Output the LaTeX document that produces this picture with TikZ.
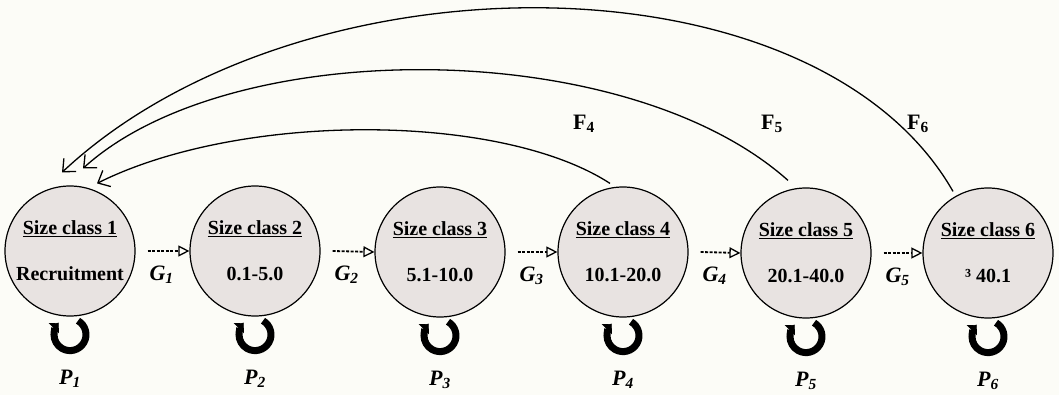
\documentclass[tikz,border=0pt]{standalone}
\usepackage{fontspec}
\setmainfont{Liberation Serif}
\usetikzlibrary{arrows.meta,calc}
\definecolor{bgc}{RGB}{252,252,247}
\definecolor{cfill}{RGB}{232,227,225}
\begin{document}
\begin{tikzpicture}[x=1pt,y=-1pt,
  sizeclass/.style={circle, draw, line width=1.2pt, fill=cfill, minimum size=130pt,
    inner sep=0pt, align=center, font=\fontsize{20}{24}\selectfont\bfseries},
  garrow/.style={dash pattern=on 3pt off 1.5pt, line width=1.8pt,
    -{Triangle[open,length=11pt,width=11pt,line width=1.3pt]}},
  farrow/.style={line width=1.3pt, -{Straight Barb[length=10pt,width=18pt,line width=1.3pt]}},
  selfloop/.style={line width=7pt, -{Triangle[length=7pt,width=14pt]}},
  glabel/.style={font=\fontsize{22}{26}\selectfont\bfseries\itshape},
  flabel/.style={font=\fontsize{22}{26}\selectfont\bfseries}]
\fill[bgc] (0,0) rectangle (1059,395);
\useasboundingbox (0,0) rectangle (1059,395);

% size classes
\node[sizeclass] (c1) at (70,251)  {\underline{Size class 1}\\[22pt]Recruitment};
\node[sizeclass] (c2) at (255,251) {\underline{Size class 2}\\[22pt]0.1-5.0};
\node[sizeclass] (c3) at (440,252) {\underline{Size class 3}\\[22pt]5.1-10.0};
\node[sizeclass] (c4) at (623,252) {\underline{Size class 4}\\[22pt]10.1-20.0};
\node[sizeclass] (c5) at (806,253) {\underline{Size class 5}\\[22pt]20.1-40.0};
\node[sizeclass] (c6) at (988,253) {\underline{Size class 6}\\[22pt]³ 40.1};

% growth transitions
\foreach \a/\b in {1/2,2/3,3/4,4/5,5/6}{
  \draw[garrow] ($(c\a.east)+(12,0)$) -- (c\b.west);
  \node[glabel] (g\a) at ($(c\a.east)+(26,24)$) {G\textsubscript{\a}};
}

% self loops and P labels
\foreach \i in {1,...,6}{
  \coordinate (l\i) at ($(c\i.south)+(0,18)$);
  \draw[selfloop] (l\i) ++(-60:16) arc[start angle=-60, end angle=225, radius=16];
  \node[glabel] (p\i) at ($(c\i.south)+(0,62)$) {P\textsubscript{\i}};
}

% fecundity arcs
\coordinate (f4s) at ($(c4.north)+(-13,-3)$);
\coordinate (f5s) at ($(c5.north)+(-18,-7)$);
\coordinate (f6s) at ($(c6.north)+(-35,4)$);
\coordinate (f4e) at ($(c1.north)+(27,-2)$);
\coordinate (f5e) at ($(c1.north)+(13,-17)$);
\coordinate (f6e) at ($(c1.north)+(-8,-13)$);
\draw[farrow] (f4s) .. controls (500,112) and (240,112) .. (f4e);
\draw[farrow] (f5s) .. controls (625,35) and (230,35) .. (f5e);
\draw[farrow] (f6s) .. controls (815,-50) and (300,-50) .. (f6e);

\node[flabel] (F4) at (584,124) {F\textsubscript{4}};
\node[flabel] (F5) at (772,124) {F\textsubscript{5}};
\node[flabel] (F6) at (918,124) {F\textsubscript{6}};
\end{tikzpicture}
\end{document}
